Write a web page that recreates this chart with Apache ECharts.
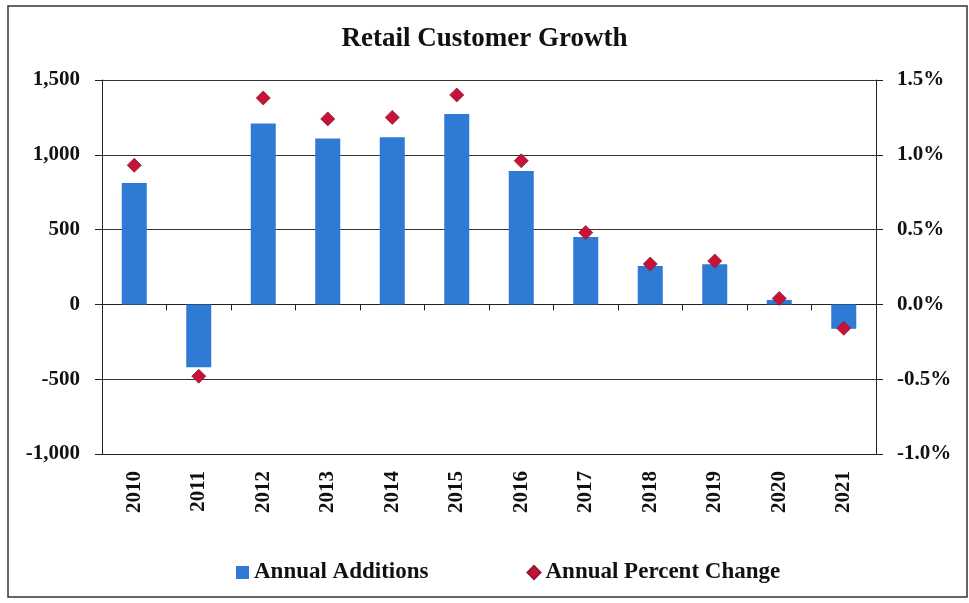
<!DOCTYPE html>
<html>
<head>
<meta charset="utf-8">
<script src="https://cdn.jsdelivr.net/npm/echarts@6/dist/echarts.min.js"></script>
<style>
html, body { margin: 0; padding: 0; background: #ffffff; }
#chart { width: 969px; height: 603px; }
</style>
</head>
<body>
<div id="chart"></div>
<script>
// 年份
var years = ["2010", "2011", "2012", "2013", "2014", "2015", "2016", "2017", "2018", "2019", "2020", "2021"];
// 每年新增客户
var annualAdditions = [812, -420, 1209, 1109, 1118, 1272, 892, 450, 256, 268, 30, -163];
// 年度变化百分比 (%)
var annualPercentChange = [0.93, -0.48, 1.38, 1.24, 1.25, 1.40, 0.96, 0.48, 0.27, 0.29, 0.04, -0.16];
// 坐标轴刻度
var leftTicks = { min: -1000, max: 1500, step: 500 };
var rightTicks = { min: -1.0, max: 1.5, step: 0.5 };

var serif = "Liberation Serif";
var myChart = echarts.init(document.getElementById("chart"));

var option = {
    backgroundColor: "#ffffff",
    animation: false,
    title: {
        text: "Retail Customer Growth",
        left: "center",
        top: 21,
        textStyle: { fontFamily: serif, fontSize: 27, fontWeight: "bold", color: "#111" }
    },
    graphic: [
        {
            type: "rect",
            shape: { x: 8, y: 6, width: 959, height: 591 },
            style: { fill: "none", stroke: "#333", lineWidth: 1.5 },
            silent: true
        }
    ],
    legend: {
        left: 231,
        top: 556,
        itemGap: 98,
        itemWidth: 13,
        itemHeight: 13,
        textStyle: { fontFamily: serif, fontSize: 23, fontWeight: "bold", color: "#111" },
        data: [
            { name: "Annual Additions", icon: "rect" },
            { name: "Annual Percent Change", icon: "diamond" }
        ]
    },
    grid: {
        left: 102,
        right: 93,
        top: 80,
        bottom: 149
    },
    xAxis: [
        {
            type: "category",
            data: years,
            position: "bottom",
            axisLine: { onZero: false, lineStyle: { color: "#222", width: 1 } },
            axisTick: { show: false },
            axisLabel: {
                rotate: 90,
                margin: 17,
                fontFamily: serif,
                fontSize: 21,
                fontWeight: "bold",
                color: "#111"
            }
        },
        {
            type: "category",
            data: years,
            position: "bottom",
            axisLine: { onZero: true, lineStyle: { color: "#222", width: 1 } },
            axisTick: { show: true, length: 6, lineStyle: { color: "#222" } },
            axisLabel: { show: false }
        }
    ],
    yAxis: [
        {
            type: "value",
            min: leftTicks.min,
            max: leftTicks.max,
            interval: leftTicks.step,
            axisLine: { show: true, lineStyle: { color: "#222" } },
            axisTick: { show: true, length: 7, lineStyle: { color: "#222" } },
            axisLabel: {
                margin: 22,
                fontFamily: serif,
                fontSize: 21,
                fontWeight: "bold",
                color: "#111",
                formatter: function (v) {
                    return v.toLocaleString("en-US");
                }
            },
            splitLine: { show: true, lineStyle: { color: "#333", width: 1 } }
        },
        {
            type: "value",
            min: rightTicks.min,
            max: rightTicks.max,
            interval: rightTicks.step,
            position: "right",
            axisLine: { show: true, lineStyle: { color: "#222" } },
            axisTick: { show: true, length: 7, lineStyle: { color: "#222" } },
            axisLabel: {
                margin: 21,
                fontFamily: serif,
                fontSize: 21,
                fontWeight: "bold",
                color: "#111",
                formatter: function (v) {
                    return v.toFixed(1) + "%";
                }
            },
            splitLine: { show: false }
        }
    ],
    series: [
        {
            name: "Annual Additions",
            type: "bar",
            xAxisIndex: 0,
            yAxisIndex: 0,
            data: annualAdditions,
            barWidth: 25,
            itemStyle: { color: "#2F7AD4" }
        },
        {
            name: "Annual Percent Change",
            type: "scatter",
            xAxisIndex: 0,
            yAxisIndex: 1,
            data: annualPercentChange,
            symbol: "diamond",
            symbolSize: 14,
            itemStyle: { color: "#C41538", borderColor: "#9A1532", borderWidth: 0.8, opacity: 1 }
        }
    ]
};

myChart.setOption(option);
</script>
</body>
</html>
